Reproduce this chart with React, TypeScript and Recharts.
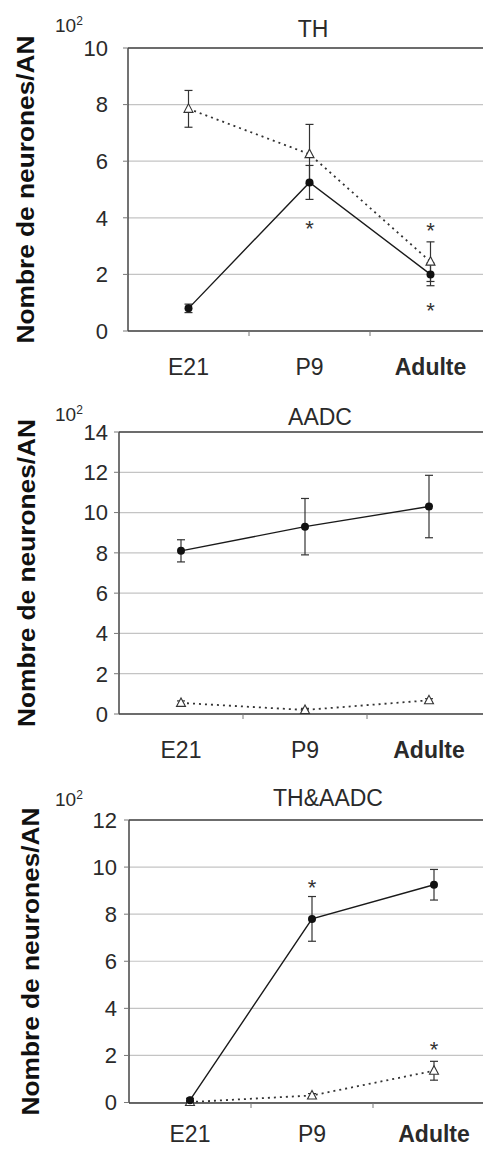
import { CartesianGrid, ErrorBar, Line, LineChart, ReferenceLine, XAxis, YAxis } from "recharts";

const stages = ["E21", "P9", "Adulte"];

// TH
const thFilled = [0.8, 5.25, 2.0];
const thFilledErr = [0.15, 0.6, 0.4];
const thOpen = [7.85, 6.25, 2.45];
const thOpenErr = [0.65, 1.05, 0.7];
const thStarsA = [null, 3.78, 3.7];
const thStarsB = [null, null, 0.88];
const thTicks = [0, 2, 4, 6, 8, 10];

// AADC
const aadcFilled = [8.1, 9.3, 10.3];
const aadcFilledErr = [0.55, 1.4, 1.55];
const aadcOpen = [0.55, 0.2, 0.68];
const aadcOpenErr = [0.1, 0.08, 0.08];
const aadcStarsA = [null, null, null];
const aadcStarsB = [null, null, null];
const aadcTicks = [0, 2, 4, 6, 8, 10, 12, 14];

// TH&AADC
const bothFilled = [0.1, 7.8, 9.25];
const bothFilledErr = [0.08, 0.95, 0.65];
const bothOpen = [0.02, 0.3, 1.35];
const bothOpenErr = [0.04, 0.08, 0.4];
const bothStarsA = [null, 9.32, 2.43];
const bothStarsB = [null, null, null];
const bothTicks = [0, 2, 4, 6, 8, 10, 12];

const FONT = '"Liberation Sans", Arial, sans-serif';
const INK = "#2a2a2a";

function Triangle(props: any) {
  const { cx, cy } = props;
  if (cx == null || cy == null) return <g />;
  return (
    <polygon
      points={`${cx},${cy - 5} ${cx - 4.5},${cy + 3.5} ${cx + 4.5},${cy + 3.5}`}
      fill="#fff"
      stroke="#333"
      strokeWidth={1.1}
    />
  );
}

function Disc(props: any) {
  const { cx, cy } = props;
  if (cx == null || cy == null) return <g />;
  return <circle cx={cx} cy={cy} r={4} fill="#111" />;
}

function Star(props: any) {
  const { cx, cy, value } = props;
  if (cx == null || cy == null || value == null) return <g />;
  return (
    <text x={cx} y={cy} dy={12} textAnchor="middle" fontSize={22} fontFamily={FONT} fill="#333">
      *
    </text>
  );
}

interface PanelProps {
  title: string;
  ticks: number[];
  filled: number[];
  filledErr: number[];
  open: number[];
  openErr: number[];
  starsA: (number | null)[];
  starsB: (number | null)[];
  top: number;
  width: number;
  height: number;
  marginTop: number;
  axisWidth: number;
  tickGap: number;
  xAxisHeight: number;
  xLabelDy: number;
  titleX: number;
  titleY: number;
  expY: number;
  labelX: number;
}

function Panel(p: PanelProps) {
  const data = stages.map((stage, i) => ({
    stage,
    filled: p.filled[i],
    filledErr: p.filledErr[i],
    open: p.open[i],
    openErr: p.openErr[i],
    starA: p.starsA[i],
    starB: p.starsB[i],
  }));
  const yMax = p.ticks[p.ticks.length - 1];
  const band = (p.width - p.axisWidth) / stages.length;

  const XTick = (props: any) => {
    const { x, y, payload, index } = props;
    const bold = payload.value === "Adulte";
    return (
      <g>
        {index > 0 && <line x1={x - band / 2} x2={x - band / 2} y1={y} y2={y + 5} stroke="#777" />}
        <text
          x={x}
          y={y}
          dy={p.xLabelDy}
          textAnchor="middle"
          fontSize={23}
          fontWeight={bold ? 700 : 400}
          fontFamily={FONT}
          fill={INK}
        >
          {payload.value}
        </text>
      </g>
    );
  };

  const yLabel = (props: any) => {
    const vb = props.viewBox;
    const cy = vb.y + vb.height / 2;
    return (
      <text
        x={p.labelX}
        y={cy}
        transform={`rotate(-90, ${p.labelX}, ${cy})`}
        textAnchor="middle"
        dominantBaseline="central"
        fontSize={24}
        fontWeight={700}
        fontFamily={FONT}
        fill="#111"
        textLength={308}
        lengthAdjust="spacingAndGlyphs"
      >
        Nombre de neurones/AN
      </text>
    );
  };

  return (
    <div style={{ position: "absolute", left: 0, top: p.top, width: p.width, height: p.height }}>
      <div
        style={{
          position: "absolute",
          left: 55,
          top: p.expY,
          fontFamily: FONT,
          fontSize: 19,
          color: INK,
          lineHeight: "22px",
          whiteSpace: "nowrap",
        }}
      >
        10<span style={{ fontSize: 12, position: "relative", top: -7 }}>2</span>
      </div>
      <div
        style={{
          position: "absolute",
          left: p.titleX - 100,
          width: 200,
          textAlign: "center",
          top: p.titleY,
          fontFamily: FONT,
          fontSize: 23,
          color: INK,
          lineHeight: "24px",
        }}
      >
        {p.title}
      </div>
      <LineChart
        width={p.width}
        height={p.height}
        data={data}
        margin={{ top: p.marginTop, right: 0, bottom: 0, left: 0 }}
      >
        <CartesianGrid vertical={false} stroke="#c4c4c4" strokeWidth={1.2} />
        <XAxis
          dataKey="stage"
          height={p.xAxisHeight}
          padding={{ left: band / 2, right: band / 2 }}
          tick={<XTick />}
          tickLine={false}
          tickSize={0}
          tickMargin={0}
          axisLine={{ stroke: "#444", strokeWidth: 1.5 }}
        />
        <YAxis
          width={p.axisWidth}
          domain={[0, yMax]}
          ticks={p.ticks}
          interval={0}
          tickSize={5}
          tickMargin={p.tickGap}
          tickLine={{ stroke: "#777" }}
          axisLine={{ stroke: "#444", strokeWidth: 1.5 }}
          tick={{ fontSize: 22, fontFamily: FONT, fill: INK }}
          label={yLabel}
        />
        <ReferenceLine y={yMax} stroke="#444" strokeWidth={1.5} />
        <Line
          dataKey="open"
          stroke="#333"
          strokeWidth={1.8}
          strokeDasharray="2 4"
          dot={<Triangle />}
          activeDot={false}
          isAnimationActive={false}
        >
          <ErrorBar dataKey="openErr" direction="y" width={4} stroke="#333" strokeWidth={1.2} />
        </Line>
        <Line
          dataKey="filled"
          stroke="#1a1a1a"
          strokeWidth={1.4}
          dot={<Disc />}
          activeDot={false}
          isAnimationActive={false}
        >
          <ErrorBar dataKey="filledErr" direction="y" width={4} stroke="#333" strokeWidth={1.2} />
        </Line>
        <Line dataKey="starA" stroke="none" dot={<Star />} activeDot={false} isAnimationActive={false} />
        <Line dataKey="starB" stroke="none" dot={<Star />} activeDot={false} isAnimationActive={false} />
      </LineChart>
    </div>
  );
}

export default function App() {
  return (
    <div
      style={{
        position: "absolute",
        left: 0,
        top: 0,
        width: 483,
        height: 1150,
        overflow: "hidden",
        background: "#fff",
      }}
    >
      <Panel
        title="TH"
        ticks={thTicks}
        filled={thFilled}
        filledErr={thFilledErr}
        open={thOpen}
        openErr={thOpenErr}
        starsA={thStarsA}
        starsB={thStarsB}
        top={0}
        width={491}
        height={388}
        marginTop={48}
        axisWidth={128}
        tickGap={15}
        xAxisHeight={57}
        xLabelDy={44}
        titleX={313}
        titleY={17}
        expY={15}
        labelX={25}
      />
      <Panel
        title="AADC"
        ticks={aadcTicks}
        filled={aadcFilled}
        filledErr={aadcFilledErr}
        open={aadcOpen}
        openErr={aadcOpenErr}
        starsA={aadcStarsA}
        starsB={aadcStarsB}
        top={380}
        width={491}
        height={390}
        marginTop={52}
        axisWidth={119}
        tickGap={6}
        xAxisHeight={56}
        xLabelDy={44}
        titleX={320}
        titleY={25}
        expY={24}
        labelX={26}
      />
      <Panel
        title="TH&AADC"
        ticks={bothTicks}
        filled={bothFilled}
        filledErr={bothFilledErr}
        open={bothOpen}
        openErr={bothOpenErr}
        starsA={bothStarsA}
        starsB={bothStarsB}
        top={760}
        width={495}
        height={390}
        marginTop={60}
        axisWidth={129}
        tickGap={7}
        xAxisHeight={47}
        xLabelDy={39}
        titleX={328}
        titleY={26}
        expY={29}
        labelX={30}
      />
    </div>
  );
}
